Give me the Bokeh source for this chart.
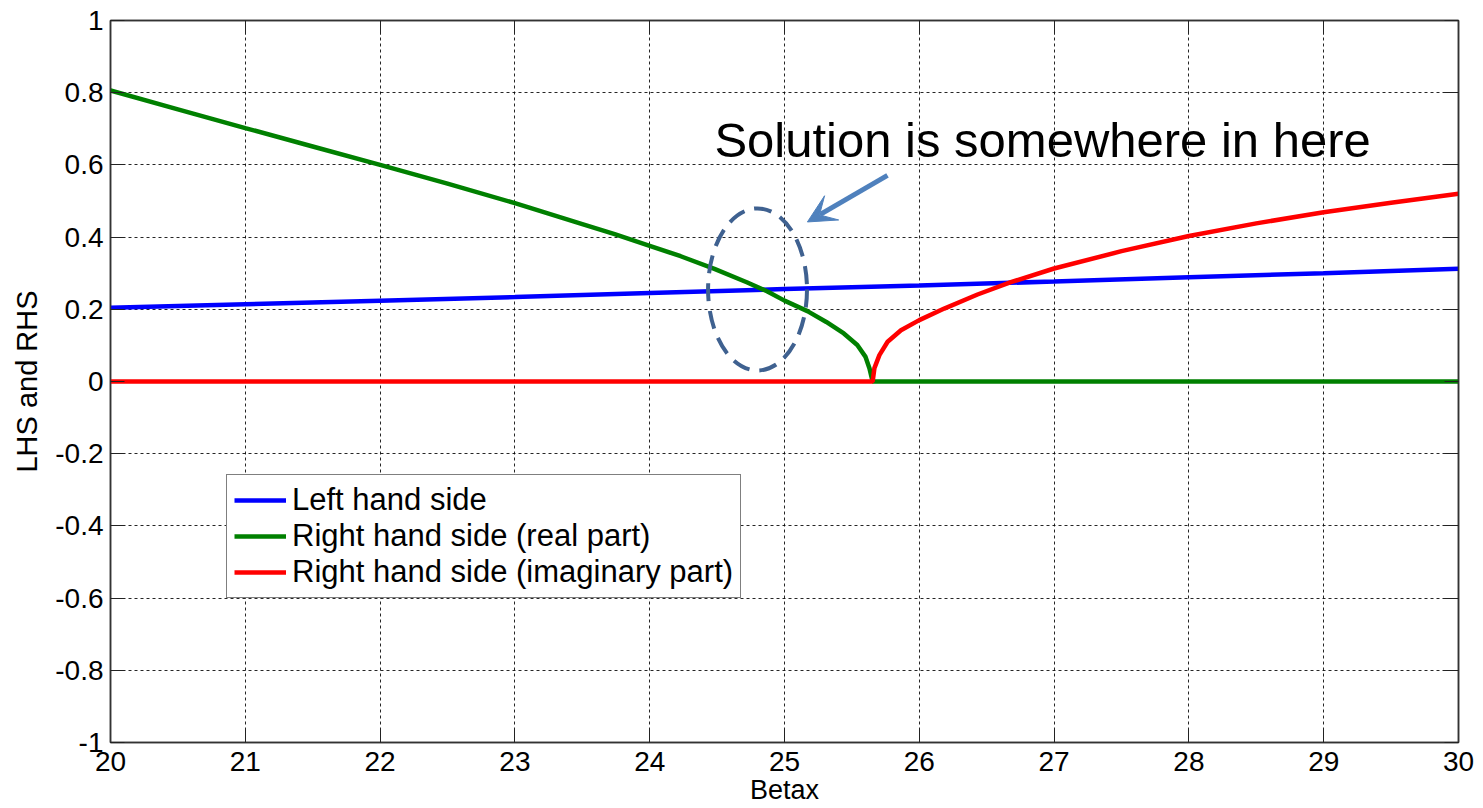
from bokeh.plotting import figure
from bokeh.models import (Range1d, FixedTicker, LinearAxis, Legend, LegendItem,
                          Label, Arrow, VeeHead)
from bokeh.embed import file_html
from bokeh.resources import INLINE

# ---------------- data ----------------
lhs_x = [20, 21, 22, 23, 24, 25, 26, 27, 28, 29, 30]
lhs_y = [0.204, 0.214, 0.224, 0.234, 0.245, 0.256, 0.266, 0.277, 0.289, 0.300, 0.312]

real_x = [20, 20.5, 21, 21.5, 22, 22.5, 23, 23.5, 23.74, 24, 24.23, 24.48, 24.72,
          24.87, 25.0, 25.17, 25.31, 25.44, 25.54, 25.6, 25.63, 25.646, 25.654, 30]
real_y = [0.806, 0.754, 0.702, 0.651, 0.600, 0.548, 0.494, 0.436, 0.408, 0.376,
          0.347, 0.312, 0.275, 0.250, 0.224, 0.195, 0.165, 0.133, 0.101, 0.069,
          0.037, 0.012, 0.0, 0.0]

imag_x = [20, 25.654, 25.667, 25.704, 25.765, 25.864, 26.0, 26.185, 26.432, 26.679,
          27.0, 27.5, 28.0, 28.5, 29.0, 29.5, 30.0]
imag_y = [0.0, 0.0, 0.037, 0.073, 0.110, 0.142, 0.170, 0.202, 0.241, 0.275,
          0.313, 0.361, 0.403, 0.438, 0.469, 0.495, 0.520]

series_names = ["Left hand side", "Right hand side (real part)",
                "Right hand side (imaginary part)"]
series_colors = ["#0000FF", "#008000", "#FF0000"]

x_ticks = [20, 21, 22, 23, 24, 25, 26, 27, 28, 29, 30]
x_tick_labels = ["20", "21", "22", "23", "24", "25", "26", "27", "28", "29", "30"]
y_ticks = [-1, -0.8, -0.6, -0.4, -0.2, 0, 0.2, 0.4, 0.6, 0.8, 1]
y_tick_labels = ["-1", "-0.8", "-0.6", "-0.4", "-0.2", "0", "0.2", "0.4", "0.6", "0.8", "1"]

x_label = "Betax"
y_label = "LHS and RHS"
note_text = "Solution is somewhere in here"

# annotation placement (data units)
note_pos = (24.48, 0.668)
ellipse_center = (24.80, 0.255)
ellipse_size = (0.734, 0.449)
arrow_from = (25.764, 0.571)
arrow_to = (25.17, 0.442)

FONT = "Liberation Sans"

p = figure(width=1483, height=808, output_backend="svg", toolbar_location=None,
           x_range=Range1d(20, 30), y_range=Range1d(-1, 1),
           min_border_left=110, min_border_right=25, min_border_top=20,
           min_border_bottom=66, background_fill_color="white",
           border_fill_color="white", x_axis_label=x_label, y_axis_label=y_label)

p.outline_line_color = "#333333"
p.outline_line_width = 1.5

xt = FixedTicker(ticks=x_ticks, minor_ticks=[])
yt = FixedTicker(ticks=y_ticks, minor_ticks=[])

for ax in p.xaxis:
    ax.ticker = xt
    ax.major_label_overrides = {t: s for t, s in zip(x_ticks, x_tick_labels)}
    ax.major_label_standoff = 9
    ax.axis_label_standoff = 1
for ax in p.yaxis:
    ax.ticker = yt
    ax.major_label_overrides = {t: s for t, s in zip(y_ticks, y_tick_labels)}
    ax.major_label_standoff = 7
    ax.axis_label_standoff = 9

for ax in list(p.xaxis) + list(p.yaxis):
    ax.major_tick_in = 14
    ax.major_tick_out = 0
    ax.minor_tick_in = 0
    ax.minor_tick_out = 0
    ax.axis_line_color = "#333333"
    ax.axis_line_width = 1.5
    ax.major_tick_line_color = "#222222"
    ax.major_tick_line_width = 1
    ax.major_label_text_font = FONT
    ax.major_label_text_font_size = "28px"
    ax.major_label_text_color = "black"
    ax.axis_label_text_font = FONT
    ax.axis_label_text_font_style = "normal"
    ax.axis_label_text_color = "black"

p.xaxis.axis_label_text_font_size = "27px"
p.yaxis.axis_label_text_font_size = "29px"

# top and right axes: tick marks only (box style), labels not drawn
for loc, tk in (("above", xt), ("right", yt)):
    ax = LinearAxis(ticker=tk, major_label_text_font_size="1px",
                    major_label_text_color=None, major_tick_in=14,
                    major_tick_out=0, minor_tick_in=0, minor_tick_out=0,
                    major_label_standoff=0, axis_line_color="#333333",
                    axis_line_width=1.5, major_tick_line_color="#222222")
    p.add_layout(ax, loc)

for g in (p.xgrid, p.ygrid):
    g.grid_line_color = "black"
    g.grid_line_alpha = 0.85
    g.grid_line_dash = "3 3"
    g.grid_line_width = 1
p.xgrid.ticker = xt
p.ygrid.ticker = yt

r1 = p.line(lhs_x, lhs_y, line_color=series_colors[0], line_width=4.5)
r2 = p.line(real_x, real_y, line_color=series_colors[1], line_width=4.5)
r3 = p.line(imag_x, imag_y, line_color=series_colors[2], line_width=4.5)

legend = Legend(items=[LegendItem(label=series_names[0], renderers=[r1]),
                       LegendItem(label=series_names[1], renderers=[r2]),
                       LegendItem(label=series_names[2], renderers=[r3])],
                location=(116, 144), orientation="vertical")
legend.border_line_color = "black"
legend.border_line_width = 1
legend.background_fill_color = "white"
legend.background_fill_alpha = 1
legend.label_text_font = FONT
legend.label_text_font_size = "31px"
legend.label_text_color = "black"
legend.glyph_width = 52
legend.glyph_height = 32
legend.label_standoff = 6
legend.padding = 7
legend.spacing = 0
legend.margin = 0
p.add_layout(legend, "center")

# annotations
p.ellipse(x=[ellipse_center[0]], y=[ellipse_center[1]], width=[ellipse_size[0]],
          height=[ellipse_size[1]], fill_color=None, line_color="#3F6190",
          line_width=4, line_dash="18 10")

arrow = Arrow(end=VeeHead(size=28, fill_color="#4F81BD", line_color="#4F81BD"),
              x_start=arrow_from[0], y_start=arrow_from[1],
              x_end=arrow_to[0], y_end=arrow_to[1],
              line_color="#4F81BD", line_width=5)
p.add_layout(arrow)

p.add_layout(Label(x=note_pos[0], y=note_pos[1], text=note_text,
                   text_font=FONT, text_font_size="49px",
                   text_color="black", text_baseline="alphabetic"))

open("out.html", "w").write(file_html(p, INLINE))
